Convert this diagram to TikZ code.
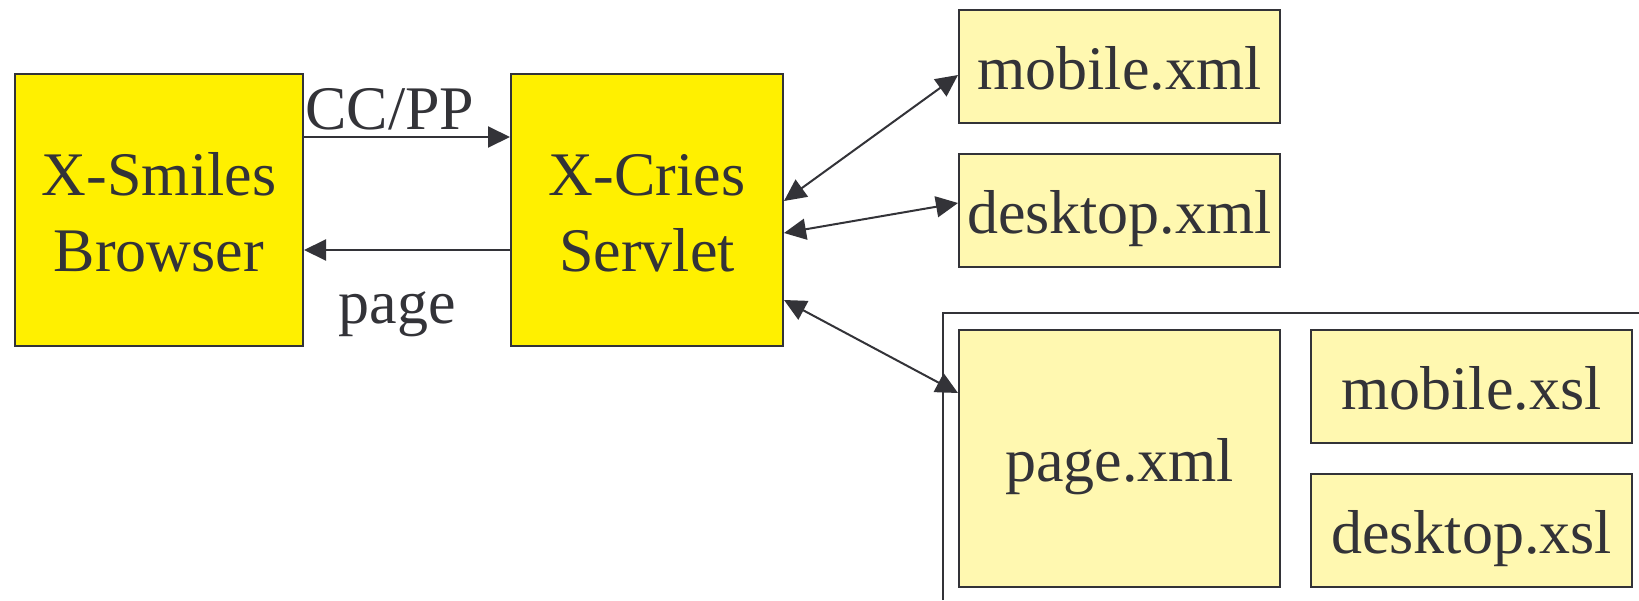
\documentclass[tikz,border=0pt]{standalone}
\usepackage{fontspec}
\setmainfont{Liberation Serif}
\usetikzlibrary{arrows.meta}
\definecolor{ink}{HTML}{333338}
\definecolor{bigyellow}{HTML}{FFF000}
\definecolor{paleyellow}{HTML}{FFF8B0}
\tikzset{
  bigbox/.style={draw=ink, line width=1pt, fill=bigyellow, inner sep=0pt,
    minimum height=136pt},
  filebox/.style={draw=ink, line width=1pt, fill=paleyellow, inner sep=0pt,
    minimum width=160.5pt, minimum height=56.5pt, text height=22.5pt, text depth=0pt,
    text=ink, font=\fontsize{31}{38}\selectfont},
  txt/.style={text=ink, inner sep=0pt, anchor=base, font=\fontsize{31}{38}\selectfont},
  conn/.style={draw=ink, line width=1pt, -{Triangle[length=11pt,width=10.5pt]}},
  biconn/.style={draw=ink, line width=1pt,
    {Triangle[length=11pt,width=10.5pt]}-{Triangle[length=11pt,width=10.5pt]}},
}
\begin{document}
\begin{tikzpicture}[x=0.5pt, y=-0.5pt]
\useasboundingbox (0,0) rectangle (1639,600);
% container
\coordinate (cbl) at (943,600);
\coordinate (ctl) at (943,313);
\coordinate (ctr) at (1639,313);
\draw[ink, line width=1pt] (cbl) -- (ctl) -- (ctr);
% main boxes
\node[bigbox, minimum width=144pt] (B) at (159,210) {};
\node[bigbox, minimum width=136pt] (S) at (647,210) {};
\node[txt] (Bt1) at (159,195) {X-Smiles};
\node[txt] (Bt2) at (159,271) {Browser};
\node[txt] (St1) at (647,195) {X-Cries};
\node[txt] (St2) at (647,271) {Servlet};
% files
\node[filebox] (mx) at (1119.5,66.5) {mobile.xml};
\node[filebox] (dx) at (1119.5,210.5) {desktop.xml};
\node[filebox, minimum height=128.5pt] (px) at (1119.5,458.5) {page.xml};
\node[filebox] (ms) at (1471.5,386.5) {mobile.xsl};
\node[filebox] (ds) at (1471.5,530.5) {desktop.xsl};
% browser <-> servlet
\draw[conn] ([yshift=36.5pt]B.east) -- ([yshift=36.5pt]S.west);
\draw[conn] ([yshift=-20pt]S.west) -- ([yshift=-20pt]B.east);
\node[txt] (cc) at (390,129) {CC/PP};
\node[txt] (pg) at (397,323) {page};
% servlet <-> files
\draw[biconn] ([yshift=4.5pt]S.east) -- ([yshift=-4.25pt]mx.west);
\draw[biconn] ([yshift=-11.5pt]S.east) -- ([yshift=3.75pt]dx.west);
\draw[biconn] ([yshift=-45pt]S.east) -- ([yshift=32.75pt]px.west);
\end{tikzpicture}
\end{document}
